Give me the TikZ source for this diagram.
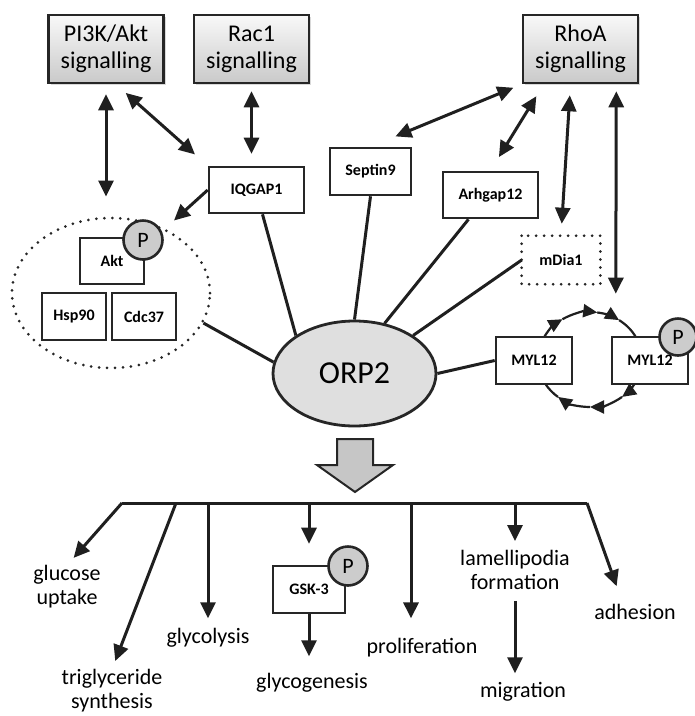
\documentclass[tikz,border=0pt]{standalone}
\usepackage{fontspec}
\setmainfont{Carlito}
\usetikzlibrary{arrows.meta,shadows,shapes.geometric}

\tikzset{
  sigbox/.style={draw=black!85, line width=2.6pt, top color=gray!5, bottom color=gray!42,
    drop shadow={opacity=0.3, shadow xshift=2pt, shadow yshift=-2pt},
    minimum width=115pt, minimum height=68pt, align=center, inner sep=0pt,
    font=\fontsize{24}{27}\selectfont},
  protbox/.style={draw=black!85, line width=2.6pt, fill=white, minimum height=46pt,
    inner sep=0pt, font=\bfseries\fontsize{16}{18}\selectfont},
  phos/.style={circle, draw=black!85, line width=2.6pt, fill=gray!40, minimum size=39pt,
    inner sep=0pt, font=\fontsize{22}{24}\selectfont},
  dots/.style={draw=black!85, line width=3pt, dash pattern=on 0pt off 8pt, line cap=round},
  link/.style={draw=black!88, line width=3pt},
  cycarc/.style={draw=black!88, line width=2.2pt, >={Triangle[length=14pt,width=13pt]}},
  outcome/.style={align=center, inner sep=0pt, font=\fontsize{22}{24}\selectfont},
}

\begin{document}
\begin{tikzpicture}[x=1pt, y=-1pt, >={Triangle[length=16pt,width=15pt]}]
  \useasboundingbox (0,0) rectangle (695,716);

  % signalling pathways
  \node[sigbox] (pi3k) at (106,49) {PI3K/Akt\\signalling};
  \node[sigbox] (rac1) at (251.5,49) {Rac1\\signalling};
  \node[sigbox] (rhoa) at (580.5,49) {RhoA\\signalling};

  % binding partners
  \node[protbox, minimum width=95pt] (iqgap) at (256.5,190) {IQGAP1};
  \node[protbox, minimum width=81pt, minimum height=47pt] (septin) at (370.5,171.5) {Septin9};
  \node[protbox, minimum width=95pt] (arhgap) at (490.5,195) {Arhgap12};
  \node[protbox, minimum width=76pt, draw=none, fill=none] (mdia) at (561,260) {mDia1};
  \draw[dots] (mdia.north west) rectangle (mdia.south east);

  % Akt complex
  \node[ellipse, dots, minimum width=198pt, minimum height=150pt] (cplx) at (111,293) {};
  \node[protbox, minimum width=64pt] (akt) at (112,261) {Akt};
  \node[phos] (aktp) at (143,240) {P};
  \node[protbox, minimum width=64pt, minimum height=47pt] (hsp) at (74,316.5) {Hsp90};
  \node[protbox, minimum width=64pt, minimum height=47pt] (cdc) at (144,316.5) {Cdc37};

  % MYL12 cycle
  \coordinate (cyc) at (590,359.5);
  \foreach \a/\b in {208/238, 238/278, 278/304, 30/52, 52/90, 90/128}
    \draw[cycarc, ->] ([shift={(\a:52 and 47.5)}]cyc) arc[start angle=\a, end angle=\b, x radius=52, y radius=47.5];
  \foreach \a/\b in {304/332, 128/150}
    \draw[cycarc] ([shift={(\a:52 and 47.5)}]cyc) arc[start angle=\a, end angle=\b, x radius=52, y radius=47.5];
  \node[protbox, minimum width=76pt, minimum height=47pt] (myla) at (534,360.5) {MYL12};
  \node[protbox, minimum width=76pt, minimum height=47pt] (mylb) at (650,360.5) {MYL12};
  \node[phos, minimum size=37pt] (mylp) at (678,337) {P};

  % ORP2
  \node[ellipse, draw=black!85, line width=2.8pt, fill=gray!25, minimum width=163pt,
    minimum height=105pt, font=\fontsize{32}{36}\selectfont] (orp2) at (354.5,373.5) {ORP2};

  % signalling arrows
  \draw[link, <->, shorten <=10pt, shorten >=20pt] (pi3k.south) -- (pi3k.south |- cplx.north);
  \draw[link, <->, shorten <=13pt, shorten >=17pt] ([xshift=10pt]pi3k.south) -- (iqgap.north west);
  \draw[link, <->, shorten <=7pt, shorten >=12pt] (rac1.south) -- (rac1.south |- iqgap.north);
  \draw[link, ->, shorten >=12pt] (iqgap.west) -- (cplx.50);
  \draw[link, <->, shorten <=9pt, shorten >=27pt] (rhoa.south west) -- (septin.north);
  \draw[link, <->, shorten <=14pt, shorten >=16pt] ([xshift=22pt]rhoa.south west) -- (arhgap.north);
  \draw[link, <->, shorten <=11pt, shorten >=12pt] ([xshift=-10pt]rhoa.south) -- (mdia.north);
  \draw[link, <->, shorten <=7pt, shorten >=42pt] ([xshift=-23pt]rhoa.south east) -- ([xshift=5pt]mylb.north west);

  % ORP2 partners
  \draw[link] ([xshift=6pt]iqgap.south) -- (orp2.147);
  \draw[link] (cplx.-18) -- (orp2.172);
  \draw[link] (septin.south) -- (orp2.north);
  \draw[link] ([xshift=-22pt]arhgap.south) -- (orp2.59);
  \draw[link] (mdia.west) -- (orp2.33);
  \draw[link] (orp2.east) -- (myla.west);

  % downstream effects
  \draw[draw=black!85, line width=2pt, fill=gray!45]
    (337,439) -- (373,439) -- (373,465) -- (393,465) -- (355,492) -- (317,465) -- (337,465) -- cycle;
  \coordinate (barL) at (122,503);
  \coordinate (barR) at (587,503);
  \draw[link] (barL) -- (barR);

  \node[outcome] (uptake) at (67,587) {glucose\\uptake};
  \node[outcome] (trig) at (112,691) {triglyceride\\synthesis};
  \node[outcome] (glycol) at (208,638) {glycolysis};
  \node[protbox, minimum width=72pt, minimum height=47pt] (gsk) at (309,589.5) {GSK-3};
  \node[phos] (gskp) at (348,566) {P};
  \node[outcome] (glycog) at (312,683) {glycogenesis};
  \node[outcome] (prolif) at (422,648) {proliferation};
  \node[outcome] (lamel) at (515,570) {lamellipodia\\formation};
  \node[outcome] (migr) at (523,692) {migration};
  \node[outcome] (adh) at (635,612) {adhesion};

  \draw[link, ->, shorten >=10pt] (barL) -- (uptake.north);
  \draw[link, ->, shorten >=9pt] ([xshift=54pt]barL) -- (trig.north);
  \draw[link, ->, shorten >=10pt] (glycol.north |- barL) -- (glycol.north);
  \draw[link, ->, shorten >=21pt] (gsk.north |- barL) -- (gsk.north);
  \draw[link, ->, shorten >=17pt] (gsk.south) -- (gsk.south |- glycog.north);
  \draw[link, ->, shorten >=20pt] ([xshift=-11pt]prolif.north |- barL) -- ([xshift=-11pt]prolif.north);
  \draw[link, ->, shorten >=9pt] (lamel.north |- barL) -- (lamel.north);
  \draw[link, ->, shorten <=11pt, shorten >=9pt] (lamel.south) -- (lamel.south |- migr.north);
  \draw[link, ->, shorten >=19pt] (barR) -- ([xshift=-12pt]adh.north);
\end{tikzpicture}
\end{document}
